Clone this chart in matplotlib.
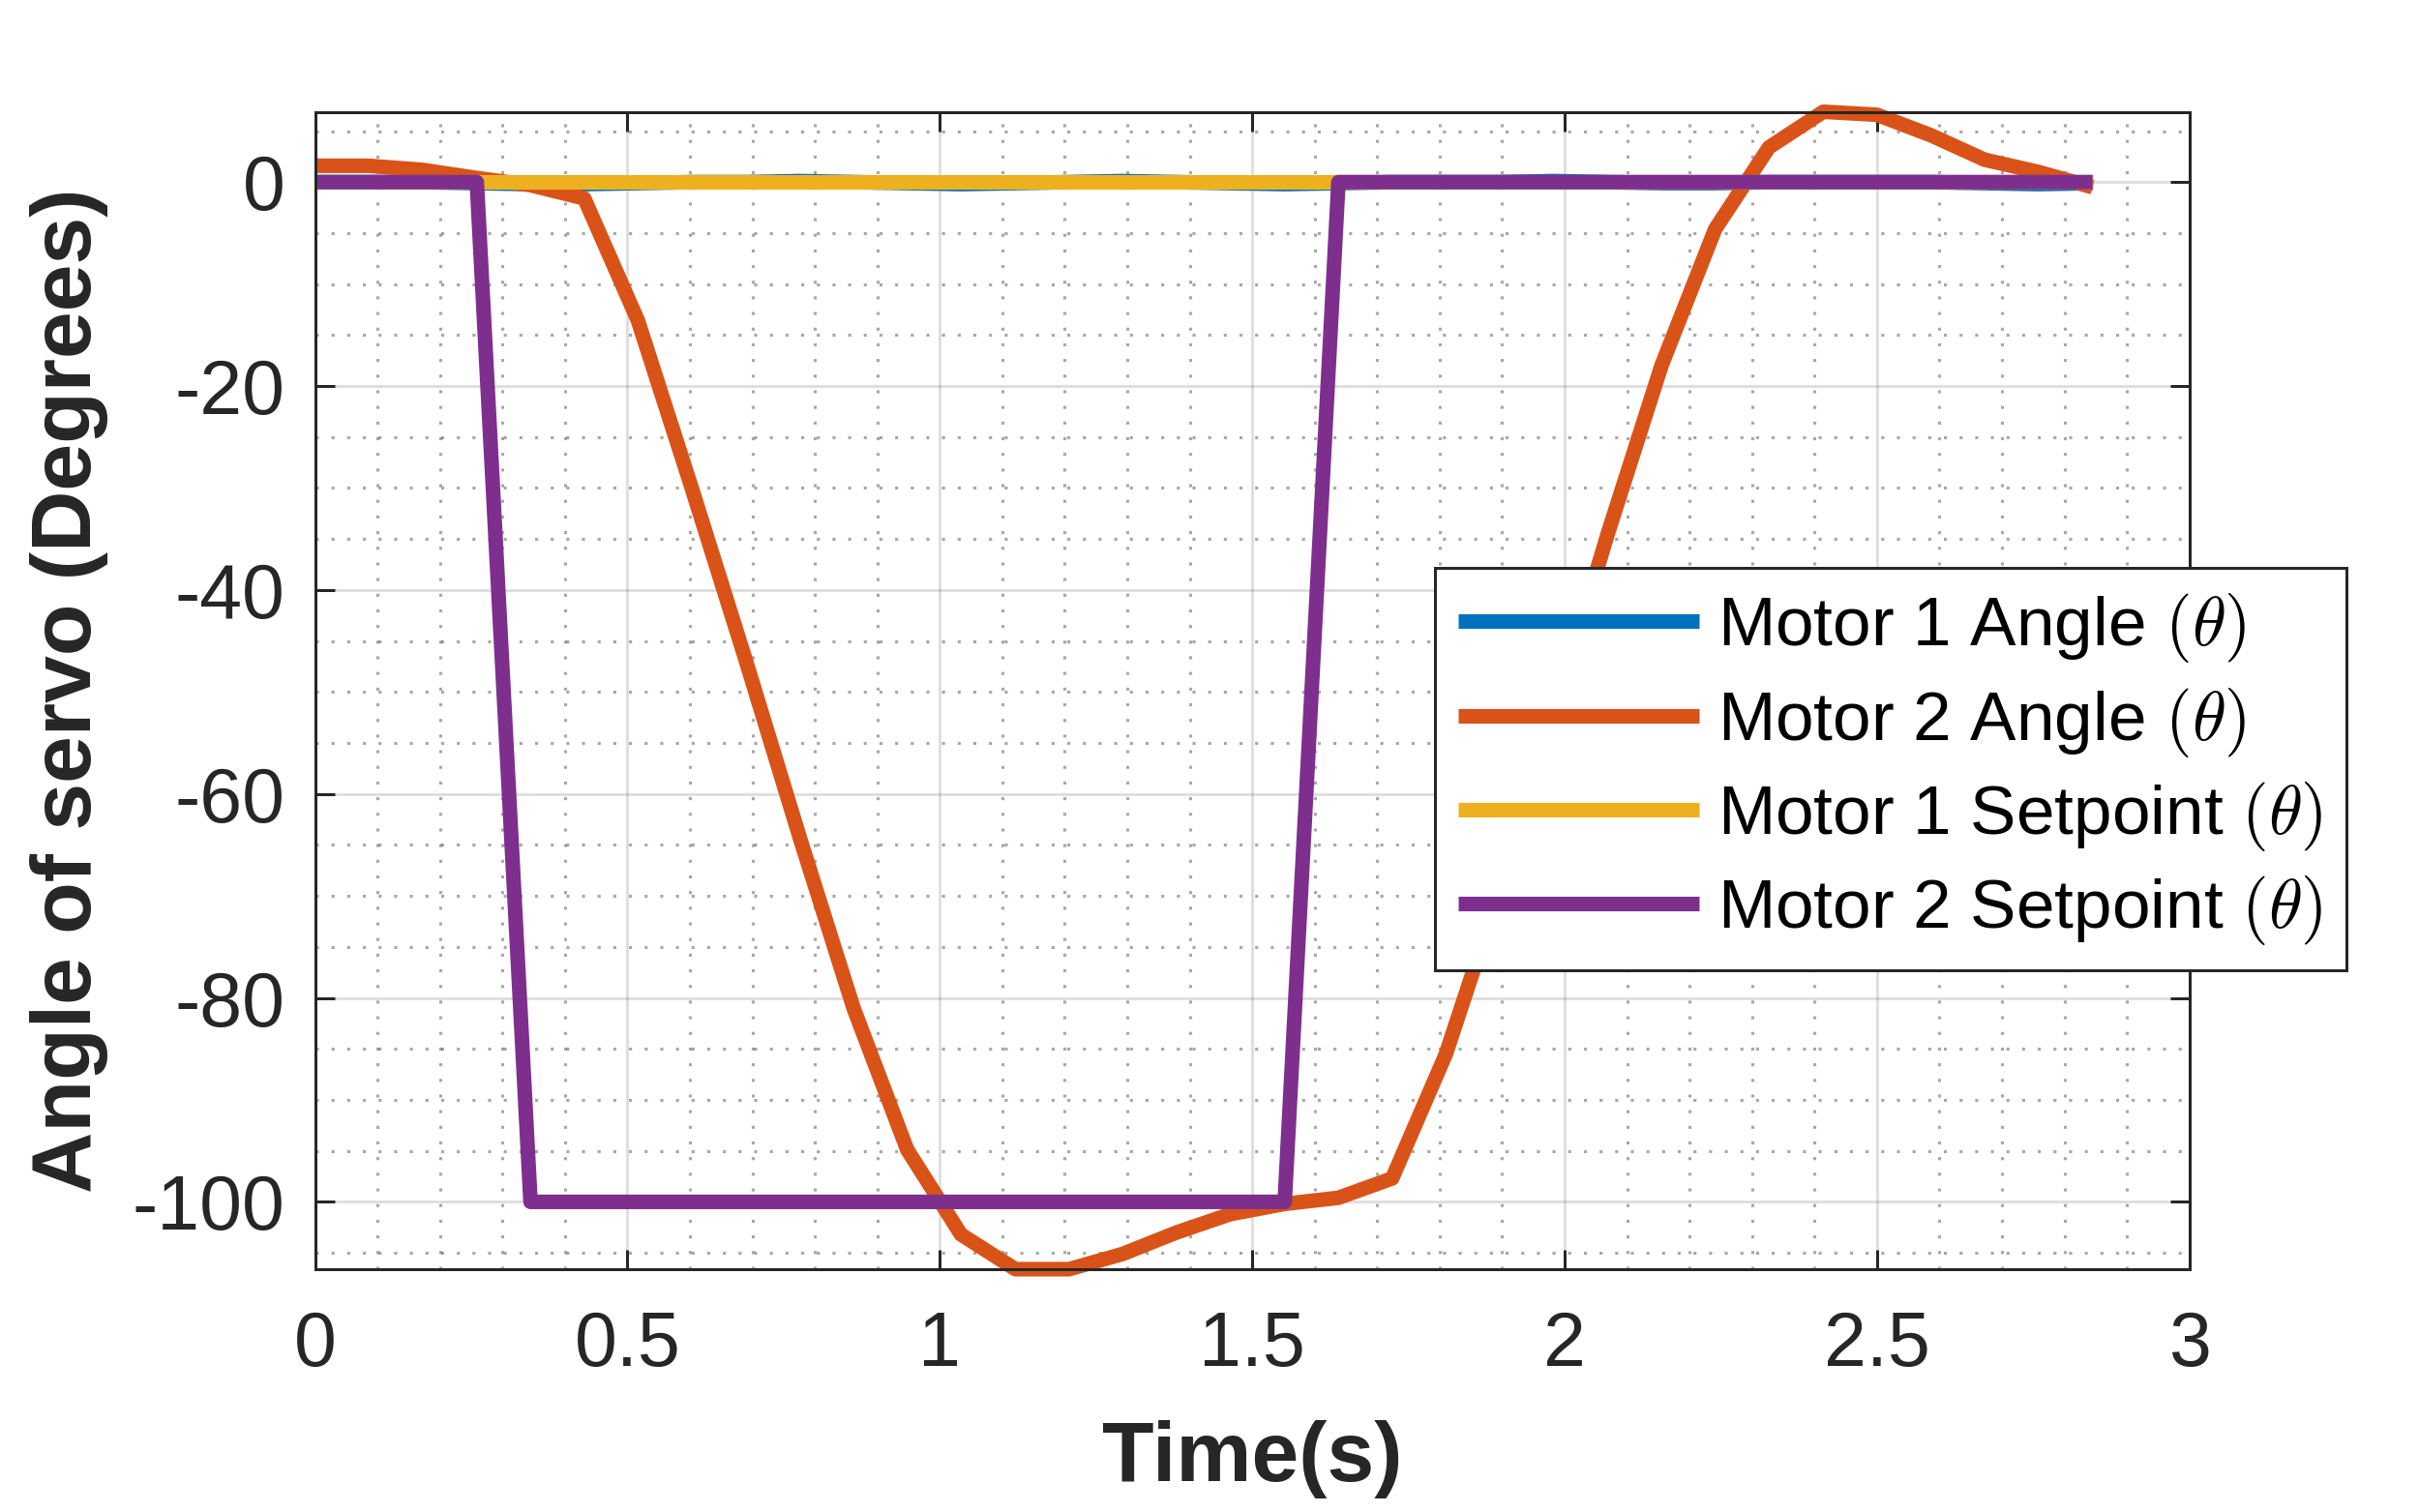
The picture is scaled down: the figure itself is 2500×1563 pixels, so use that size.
import numpy as np
import matplotlib
matplotlib.use("Agg")
import matplotlib.pyplot as plt
from matplotlib.ticker import MultipleLocator

plt.rcParams['font.family'] = ['Liberation Sans', 'DejaVu Sans']
plt.rcParams['mathtext.fontset'] = 'cm'
plt.rcParams['axes.unicode_minus'] = False

# sample times (s)
time_s = [0.000, 0.086, 0.172, 0.259, 0.345, 0.431, 0.517, 0.603, 0.690, 0.776,
          0.862, 0.948, 1.034, 1.121, 1.207, 1.293, 1.379, 1.465, 1.552, 1.638,
          1.724, 1.810, 1.896, 1.983, 2.069, 2.155, 2.241, 2.327, 2.414, 2.500,
          2.586, 2.672, 2.758, 2.845]

motor1_angle = [0.0, 0.0, 0.0, -0.1, -0.2, -0.2, -0.1, 0.0, 0.0, 0.1,
                0.0, -0.1, -0.2, -0.1, 0.0, 0.1, 0.0, -0.1, -0.2, -0.1,
                0.0, 0.0, 0.0, 0.1, 0.0, -0.1, -0.1, 0.0, 0.0, 0.0,
                0.0, -0.1, -0.2, -0.1]

motor2_angle = [1.6, 1.6, 1.2, 0.4, -0.3, -1.6, -13.6, -30.0, -47.0, -64.3,
                -81.0, -94.9, -103.2, -106.6, -106.6, -105.1, -103.0, -101.2, -100.2, -99.6,
                -97.7, -85.5, -69.5, -52.0, -34.5, -18.0, -4.6, 3.4, 6.9, 6.6,
                4.6, 2.2, 1.0, -0.5]

motor1_setpoint = [0.0] * 34

motor2_setpoint = [0, 0, 0, 0, -100, -100, -100, -100, -100, -100,
                   -100, -100, -100, -100, -100, -100, -100, -100, -100, 0,
                   0, 0, 0, 0, 0, 0, 0, 0, 0, 0,
                   0, 0, 0, 0]

labels = [r'Motor 1 Angle $(\theta)$', r'Motor 2 Angle $(\theta)$',
          r'Motor 1 Setpoint $(\theta)$', r'Motor 2 Setpoint $(\theta)$']
colors = ['#0072BD', '#D95319', '#EDB120', '#7E2F8E']

fig = plt.figure(figsize=(15.625, 9.76875), dpi=160)
ax = fig.add_axes([0.1302, 0.1606, 0.7749, 0.7655])

series = [motor1_angle, motor2_angle, motor1_setpoint, motor2_setpoint]
for s, c, lab in zip(series, colors, labels):
    ax.plot(time_s, s, color=c, lw=6.8, label=lab, clip_on=False,
            solid_capstyle='butt', solid_joinstyle='round')

ax.set_xlim(0, 3)
ax.set_ylim(min(motor2_angle), max(motor2_angle))
ax.set_xticks([0, 0.5, 1, 1.5, 2, 2.5, 3])
ax.set_xticklabels(['0', '0.5', '1', '1.5', '2', '2.5', '3'])
ax.set_yticks([0, -20, -40, -60, -80, -100])
ax.xaxis.set_minor_locator(MultipleLocator(0.1))
ax.yaxis.set_minor_locator(MultipleLocator(5))

axcol = '#262626'
ax.set_axisbelow(True)
ax.grid(True, which='major', color=axcol, alpha=0.15, lw=1.3)
ax.grid(True, which='minor', color=axcol, alpha=0.4, lw=1.4, linestyle=(0, (1, 4.2)))

for sp in ax.spines.values():
    sp.set_color(axcol)
    sp.set_linewidth(1.35)
ax.tick_params(which='major', direction='in', length=9, width=1.35, colors=axcol,
               top=True, right=True, labelsize=35.5)
ax.tick_params(axis='x', which='major', pad=19)
ax.tick_params(axis='y', which='major', pad=14)
ax.tick_params(which='minor', length=0, top=True, right=True)

ax.set_xlabel('Time(s)', fontsize=39.5, fontweight='bold', color=axcol)
ax.set_ylabel('Angle of servo (Degrees)', fontsize=39.5, fontweight='bold', color=axcol)
ax.xaxis.set_label_coords(0.5, -0.13)
ax.yaxis.set_label_coords(-0.110, 0.5)

leg = ax.legend(loc='upper left', bbox_to_anchor=(0.5932, 0.6244), bbox_transform=fig.transFigure,
                fontsize=32, handlelength=3.5, handletextpad=0.27, borderpad=0.34,
                labelspacing=0.3, fancybox=False, framealpha=1, borderaxespad=0)
leg.get_frame().set_edgecolor(axcol)
leg.get_frame().set_linewidth(1.35)
leg.set_zorder(5)

fig.savefig('out.png', dpi=160)
